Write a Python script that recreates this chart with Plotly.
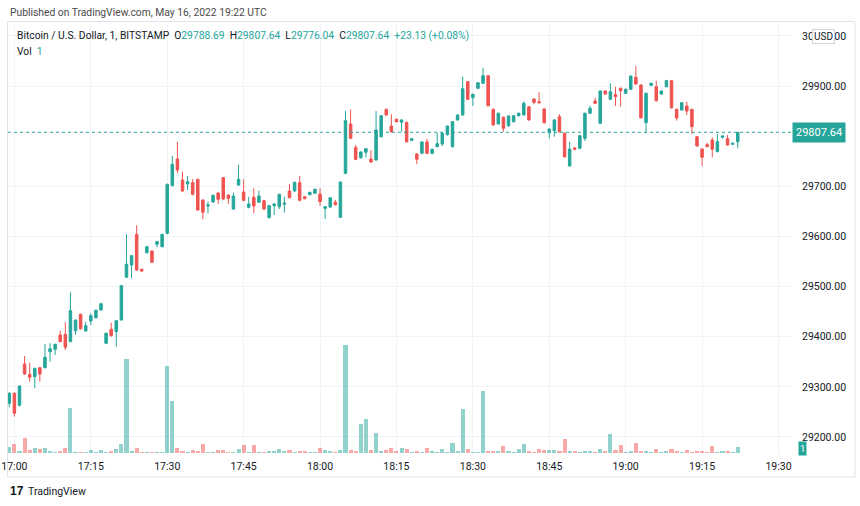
import pandas as pd
import plotly.graph_objects as go

# ---------------- data (BTC/USD, Bitstamp, 1-minute, 2022-05-16) ----------------
start_time = "2022-05-16 16:59"
opens = [29267.2, 29287.2, 29263.2, 29345.6, 29325.0, 29320.3, 29338.2, 29338.2, 29370.1, 29374.9,
         29403.4, 29404.8, 29390.1, 29412.0, 29444.7, 29411.4, 29431.3, 29437.9, 29453.3, 29386.9,
         29414.8, 29410.0, 29433.3, 29518.5, 29543.0, 29604.2, 29534.4, 29567.6, 29571.0, 29584.3,
         29579.5, 29606.2, 29701.2, 29754.4, 29712.5, 29704.6, 29707.2, 29713.9, 29672.7, 29660.7,
         29668.7, 29686.6, 29717.1, 29682.6, 29654.7, 29702.6, 29688.6, 29658.1, 29678.0, 29668.1,
         29671.3, 29637.4, 29661.3, 29659.3, 29664.1, 29690.6, 29690.6, 29707.2, 29679.2, 29683.2,
         29686.0, 29684.6, 29656.0, 29658.7, 29668.1, 29638.1, 29725.9, 29824.2, 29777.0, 29757.0,
         29767.8, 29754.4, 29752.4, 29798.9, 29853.5, 29820.2, 29833.6, 29827.6, 29827.6, 29791.7,
         29764.4, 29765.8, 29788.3, 29765.8, 29779.0, 29784.3, 29802.9, 29779.0, 29832.2, 29842.2,
         29908.6, 29876.7, 29895.4, 29905.4, 29920.5, 29853.5, 29824.2, 29837.6, 29820.8, 29828.8,
         29840.8, 29842.2, 29858.7, 29874.1, 29868.7, 29854.1, 29806.9, 29810.9, 29838.8, 29805.7,
         29740.5, 29776.4, 29775.8, 29795.7, 29845.6, 29870.1, 29825.6, 29890.0, 29873.5, 29882.6,
         29895.4, 29885.4, 29893.4, 29917.4, 29902.0, 29826.8, 29901.4, 29898.6, 29884.0, 29898.6,
         29910.6, 29853.5, 29852.1, 29860.1, 29853.5, 29798.9, 29774.4, 29782.9, 29792.3, 29769.0,
         29797.7, 29794.9, 29783.7, 29788.69]
highs = [29289.0, 29289.0, 29302.5, 29361.5, 29348.2, 29338.0, 29339.5, 29385.5, 29386.9, 29386.0,
         29412.0, 29428.8, 29488.6, 29434.0, 29446.0, 29430.0, 29446.7, 29454.0, 29467.0, 29408.0,
         29428.0, 29433.0, 29503.0, 29604.8, 29563.0, 29622.2, 29536.0, 29581.0, 29572.5, 29590.5,
         29605.0, 29705.0, 29760.4, 29788.9, 29729.1, 29720.5, 29714.5, 29715.0, 29674.0, 29669.3,
         29683.0, 29688.0, 29718.0, 29684.0, 29687.2, 29742.5, 29713.9, 29679.2, 29696.0, 29691.2,
         29673.0, 29663.0, 29666.0, 29685.0, 29679.2, 29704.6, 29709.0, 29720.5, 29680.0, 29689.0,
         29695.0, 29696.0, 29660.0, 29678.0, 29672.7, 29709.0, 29850.7, 29853.5, 29782.3, 29770.0,
         29776.0, 29772.4, 29850.1, 29842.0, 29855.0, 29843.6, 29835.0, 29834.0, 29829.0, 29796.0,
         29766.0, 29790.0, 29794.9, 29775.0, 29806.9, 29807.0, 29821.0, 29830.0, 29843.0, 29918.5,
         29910.0, 29885.0, 29908.0, 29936.5, 29922.0, 29855.0, 29847.0, 29839.0, 29841.0, 29842.0,
         29847.0, 29869.5, 29860.0, 29875.0, 29887.4, 29856.0, 29816.0, 29834.0, 29843.6, 29807.0,
         29788.9, 29778.0, 29802.0, 29847.0, 29860.1, 29876.7, 29891.0, 29891.0, 29905.4, 29898.6,
         29897.0, 29895.0, 29921.0, 29939.9, 29903.0, 29887.0, 29907.0, 29910.6, 29891.0, 29912.0,
         29912.0, 29855.0, 29868.0, 29868.7, 29855.0, 29800.0, 29776.0, 29786.9, 29797.7, 29804.3,
         29801.0, 29802.3, 29787.0, 29807.64]
lows = [29259.2, 29240.5, 29261.0, 29324.0, 29310.3, 29297.1, 29310.3, 29337.0, 29350.2, 29363.5,
        29389.0, 29373.5, 29389.0, 29404.0, 29414.0, 29410.0, 29423.4, 29436.0, 29452.0, 29385.0,
        29400.0, 29380.1, 29432.0, 29517.0, 29516.5, 29531.0, 29529.0, 29566.0, 29547.0, 29578.3,
        29578.0, 29604.0, 29700.0, 29725.9, 29689.0, 29692.6, 29682.0, 29651.0, 29634.2, 29646.1,
        29667.0, 29664.7, 29673.0, 29664.7, 29653.0, 29701.0, 29670.0, 29656.0, 29646.1, 29667.0,
        29653.0, 29636.0, 29642.7, 29654.7, 29647.3, 29676.0, 29689.0, 29670.0, 29674.0, 29682.0,
        29685.0, 29660.7, 29634.8, 29657.0, 29662.0, 29637.0, 29724.0, 29794.0, 29752.0, 29755.0,
        29757.8, 29747.0, 29751.0, 29797.0, 29841.0, 29807.0, 29827.0, 29808.9, 29787.0, 29790.0,
        29744.4, 29764.0, 29764.0, 29764.0, 29778.0, 29780.3, 29801.0, 29777.0, 29831.0, 29841.0,
        29872.0, 29860.1, 29894.0, 29904.0, 29859.0, 29821.0, 29823.0, 29808.9, 29819.0, 29827.0,
        29839.0, 29841.0, 29831.0, 29863.5, 29865.0, 29825.0, 29795.7, 29798.9, 29807.0, 29757.0,
        29739.0, 29772.0, 29774.0, 29790.3, 29844.0, 29864.0, 29824.0, 29883.0, 29872.0, 29860.1,
        29858.7, 29884.0, 29892.0, 29902.0, 29835.0, 29805.7, 29900.0, 29869.0, 29883.0, 29897.0,
        29855.0, 29830.8, 29851.0, 29842.2, 29804.3, 29779.0, 29740.5, 29778.0, 29757.8, 29768.0,
        29795.0, 29781.0, 29782.0, 29776.04]
closes = [29287.2, 29247.3, 29301.7, 29325.6, 29319.1, 29337.0, 29325.6, 29359.0, 29376.1, 29384.9,
          29390.1, 29378.9, 29451.9, 29433.3, 29416.0, 29422.0, 29441.9, 29452.7, 29465.8, 29406.8,
          29402.0, 29431.9, 29501.7, 29544.4, 29561.6, 29533.0, 29531.0, 29579.5, 29548.4, 29589.5,
          29604.2, 29704.0, 29743.8, 29732.5, 29690.6, 29709.1, 29684.0, 29652.7, 29648.1, 29662.7,
          29682.0, 29674.0, 29674.6, 29676.0, 29680.6, 29713.9, 29672.1, 29664.7, 29660.7, 29680.6,
          29654.7, 29661.3, 29664.7, 29684.0, 29666.7, 29677.2, 29708.0, 29672.1, 29675.2, 29688.0,
          29694.0, 29669.3, 29659.3, 29677.2, 29663.3, 29708.5, 29830.8, 29795.7, 29753.8, 29768.4,
          29775.0, 29748.4, 29812.3, 29840.8, 29842.2, 29808.9, 29828.8, 29832.2, 29788.9, 29794.9,
          29753.8, 29788.3, 29765.8, 29773.8, 29785.0, 29805.7, 29820.2, 29828.8, 29842.2, 29894.6,
          29873.5, 29883.4, 29906.6, 29920.5, 29860.7, 29822.2, 29845.6, 29815.6, 29840.2, 29840.8,
          29845.6, 29865.5, 29832.2, 29867.5, 29866.7, 29826.8, 29814.2, 29832.2, 29808.9, 29759.0,
          29774.4, 29773.8, 29800.9, 29845.6, 29855.5, 29865.5, 29890.0, 29884.0, 29888.6, 29878.7,
          29890.6, 29893.4, 29919.9, 29904.0, 29836.8, 29885.4, 29905.4, 29870.7, 29890.0, 29910.6,
          29856.7, 29836.2, 29866.7, 29850.1, 29818.8, 29780.3, 29757.8, 29779.0, 29773.8, 29788.9,
          29800.3, 29782.3, 29785.7, 29807.64]
volumes = [1.0, 1.45, 0.33, 2.5, 0.45, 0.88, 0.62, 0.88, 0.33, 0.22,
           0.33, 0.88, 7.45, 0.22, 0.22, 0.22, 0.45, 0.22, 0.45, 0.22,
           0.33, 0.62, 1.55, 15.6, 0.33, 0.88, 0.22, 0.22, 0.22, 0.22,
           0.22, 14.45, 8.6, 0.88, 0.33, 0.22, 0.45, 0.33, 1.45, 0.22,
           0.22, 0.45, 0.45, 0.22, 0.22, 0.62, 1.28, 0.22, 1.28, 0.22,
           0.22, 0.33, 0.33, 0.62, 0.33, 0.45, 0.22, 0.33, 0.33, 0.22,
           0.22, 0.78, 0.45, 0.33, 0.22, 0.45, 17.95, 0.45, 0.33, 4.78,
           5.72, 0.45, 3.33, 0.38, 0.55, 0.88, 0.33, 0.88, 0.72, 0.22,
           0.33, 0.22, 0.88, 0.38, 0.22, 0.72, 0.22, 1.72, 0.38, 7.38,
           0.72, 0.22, 0.22, 10.38, 0.38, 0.33, 0.33, 1.12, 0.38, 0.22,
           0.72, 1.55, 0.38, 0.22, 0.72, 0.55, 0.55, 0.55, 0.38, 2.28,
           0.33, 0.33, 0.22, 0.33, 0.33, 0.22, 0.72, 0.33, 3.17, 0.55,
           1.38, 0.22, 0.38, 1.72, 0.38, 0.33, 0.22, 0.72, 0.22, 0.33,
           0.72, 0.38, 0.22, 0.55, 0.22, 0.33, 0.33, 0.22, 1.12, 0.22,
           0.38, 0.33, 0.22, 1.0]
price_ticks = [29200, 29300, 29400, 29500, 29600, 29700, 29900, 30000]
title_text = "Published on TradingView.com, May 16, 2022 19:22 UTC"
symbol_text = "Bitcoin / U.S. Dollar, 1, BITSTAMP"
change_text = "+23.13 (+0.08%)"

# ---------------- figure ----------------
W, H = 860, 506
UP = "#26a69a"
DOWN = "#ef5350"
UP_VOL = "rgba(38,166,154,0.5)"
DOWN_VOL = "rgba(239,83,80,0.5)"
GRID = "#f0f3fa"
TXT = "#131722"

times = pd.date_range(start_time, periods=len(opens), freq="min")
vol_colors = [UP_VOL if c >= o else DOWN_VOL for o, c in zip(opens, closes)]

def px(x):
    return x / W

def py(y):
    return 1 - y / H

# plot area in pixels
PL, PR, PT, PB = 8, 792, 22, 455
t0 = pd.Timestamp("2022-05-16 17:00")
ppm = 5.094  # pixels per minute
x0_px = 14.4  # pixel position of 17:00
x_start = t0 + pd.Timedelta(minutes=(PL - x0_px) / ppm)
x_end = t0 + pd.Timedelta(minutes=(PR - x0_px) / ppm)
# price scale: 29900 at y=86, 0.5014 px per USD
ppu = 0.5014
y_top = 29900 + (86 - PT) / ppu
y_bot = 29900 - (PB - 86) / ppu
# volume scale: 6 px per unit, base at y=453
vpx = 6.0
v_bot = -(PB - 453) / vpx
v_top = v_bot + (PB - PT) / vpx

fig = go.Figure()
fig.add_trace(go.Bar(
    x=times, y=volumes, marker=dict(color=vol_colors, line=dict(width=0)),
    width=48000, yaxis="y2", hoverinfo="skip", showlegend=False,
))
fig.add_trace(go.Candlestick(
    x=times, open=opens, high=highs, low=lows, close=closes,
    increasing=dict(line=dict(color=UP, width=1), fillcolor=UP),
    decreasing=dict(line=dict(color=DOWN, width=1), fillcolor=DOWN),
    whiskerwidth=0, showlegend=False,
))

fig.update_layout(
    width=W, height=H, margin=dict(l=0, r=0, t=0, b=0, autoexpand=False),
    paper_bgcolor="white", plot_bgcolor="white",
    font=dict(family="Roboto, Arial, sans-serif", size=11, color=TXT),
    showlegend=False, bargap=0,
    xaxis=dict(
        domain=[px(PL), px(PR)], type="date", range=[x_start, x_end], automargin=False,
        rangeslider=dict(visible=False), showgrid=True, gridcolor=GRID, gridwidth=1,
        dtick=15 * 60 * 1000, tickformat="%H:%M", ticks="", showline=False, zeroline=False,
        tickfont=dict(size=10.5, color=TXT), ticklabelstandoff=3,
    ),
    yaxis=dict(
        domain=[py(PB), py(PT)], range=[y_bot, y_top], side="right", automargin=False,
        tickvals=price_ticks, ticktext=[f"{v:.2f}" for v in price_ticks],
        showgrid=True, gridcolor=GRID, gridwidth=1, ticks="", showline=False, zeroline=False,
        tickfont=dict(size=10.5, color=TXT), ticklabelstandoff=9,
    ),
    yaxis2=dict(
        domain=[py(PB), py(PT)], overlaying="y", range=[v_bot, v_top], visible=False,
        showgrid=False, zeroline=False, automargin=False,
    ),
)

last_close = closes[-1]
last_vol = volumes[-1]

shapes = [
    # dotted last-price line
    dict(type="line", xref="paper", yref="y", x0=px(PL), x1=px(PR), y0=last_close, y1=last_close,
         line=dict(color=UP, width=1, dash="dot"), layer="above"),
    # chart frame
    dict(type="rect", xref="paper", yref="paper", x0=px(PL - 0.5), x1=px(855), y0=py(477), y1=py(PT - 0.5),
         line=dict(color="#e0e3eb", width=1), fillcolor="rgba(0,0,0,0)", layer="below"),
]

ann = []
ann.append(dict(xref="paper", yref="paper", x=px(8), y=py(12.5), xanchor="left", yanchor="middle",
                text=title_text, showarrow=False, font=dict(size=10.3, color="#4a4a4a")))
teal = lambda s: f"<span style='color:{UP}'>{s}</span>"
legend_line = (f"{symbol_text}  O{teal(f'{opens[-1]:.2f}')}  H{teal(f'{highs[-1]:.2f}')}  "
               f"L{teal(f'{lows[-1]:.2f}')}  C{teal(f'{closes[-1]:.2f}')}  {teal(change_text)}")
ann.append(dict(xref="paper", yref="paper", x=px(15), y=py(35.5), xanchor="left", yanchor="middle",
                text=legend_line, showarrow=False, font=dict(size=10.3, color=TXT)))
ann.append(dict(xref="paper", yref="paper", x=px(15), y=py(51.5), xanchor="left", yanchor="middle",
                text=f"Vol  {teal(f'{last_vol:.0f}')}", showarrow=False, font=dict(size=10.3, color=TXT)))
# last price label
ann.append(dict(xref="paper", yref="y", x=px(PR), y=last_close, xanchor="left", yanchor="middle",
                text=f"{last_close:.2f}", showarrow=False, bgcolor=UP, borderpad=3,
                font=dict(size=11, color="white")))
# last volume label
ann.append(dict(xref="paper", yref="paper", x=px(PR + 6), y=py(448), xanchor="left", yanchor="middle",
                text=f"{last_vol:.0f}", showarrow=False, bgcolor=UP, borderpad=1,
                font=dict(size=9.5, color="white")))
# currency badge
ann.append(dict(xref="paper", yref="paper", x=px(823), y=py(36), xanchor="center", yanchor="middle",
                text="USD", showarrow=False, bgcolor="white", bordercolor="#d1d4dc", borderwidth=1,
                borderpad=1, font=dict(size=10, color=TXT)))
# footer logo
ann.append(dict(xref="paper", yref="paper", x=px(8), y=py(491), xanchor="left", yanchor="middle",
                text="<b>17</b>", showarrow=False, font=dict(size=12, color=TXT, family="Arial Black, Arial")))
ann.append(dict(xref="paper", yref="paper", x=px(26), y=py(491), xanchor="left", yanchor="middle",
                text="TradingView", showarrow=False, font=dict(size=10.5, color=TXT)))

fig.update_layout(shapes=shapes, annotations=ann)
fig.write_html("out.html", config={"displayModeBar": False},
               post_script="document.body.style.margin='0';document.body.style.overflow='hidden';")
